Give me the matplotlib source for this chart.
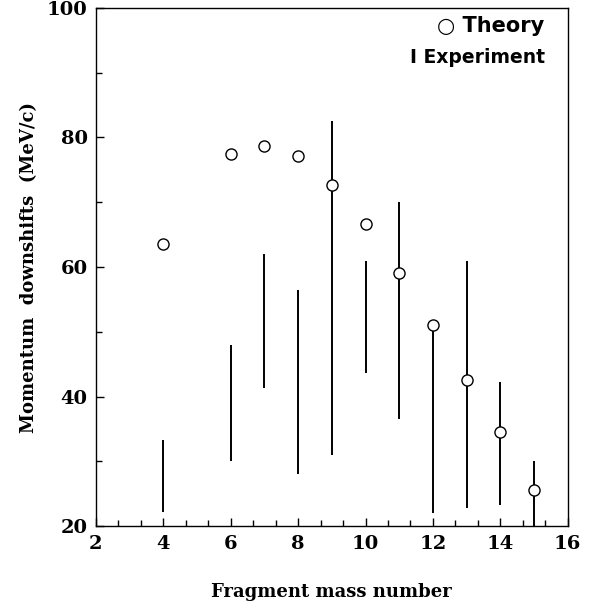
import numpy as np
import matplotlib.pyplot as plt
from matplotlib.ticker import MultipleLocator

# Theory (open circles)
theory_mass = [4, 6, 7, 8, 9, 10, 11, 12, 13, 14, 15]
theory_shift = [63.6, 77.4, 78.7, 77.1, 72.6, 66.6, 59.1, 51.0, 42.6, 34.5, 25.6]

# Experiment (vertical bars, low/high)
exp_mass = [4, 6, 7, 8, 9, 10, 11, 12, 13, 14, 15]
exp_low = [22.2, 30.0, 41.3, 28.0, 31.0, 43.7, 36.5, 22.0, 22.8, 23.3, 20.0]
exp_high = [33.3, 48.0, 62.0, 56.4, 82.5, 61.0, 70.0, 51.0, 61.0, 42.2, 30.0]

serif = 'DejaVu Serif'

fig = plt.figure(figsize=(5.92, 6.09), dpi=100)
ax = fig.add_axes([0.162, 0.136, 0.797, 0.851])

ax.vlines(exp_mass, exp_low, exp_high, colors='black', linewidth=1.4)
ax.plot(theory_mass, theory_shift, 'o', mfc='white', mec='black',
        markersize=8, markeredgewidth=1.0, linestyle='none')

ax.set_xlim(2, 16)
ax.set_ylim(20, 100)
ax.xaxis.set_major_locator(MultipleLocator(2))
ax.xaxis.set_minor_locator(MultipleLocator(2 / 3))
ax.yaxis.set_major_locator(MultipleLocator(20))
ax.yaxis.set_minor_locator(MultipleLocator(10))
ax.tick_params(which='both', direction='in', top=False, right=False)
ax.tick_params(which='major', length=6, width=1, pad=6)
ax.tick_params(which='minor', length=4, width=1)

for lab in ax.get_xticklabels() + ax.get_yticklabels():
    lab.set_fontfamily(serif)
    lab.set_fontweight('bold')
    lab.set_fontsize(14)

ax.set_xlabel('Fragment mass number', fontfamily=serif, fontweight='bold',
              fontsize=13, labelpad=22)
ax.set_ylabel('Momentum  downshifts  (MeV/c)', fontfamily=serif,
              fontweight='bold', fontsize=13, labelpad=6)

for s in ax.spines.values():
    s.set_linewidth(1.0)

# legend as text
ax.text(0.951, 0.966, '\u25CB Theory', transform=ax.transAxes, ha='right',
        va='center', fontsize=15, fontweight='bold', family='DejaVu Sans')
ax.text(0.951, 0.905, 'I Experiment', transform=ax.transAxes, ha='right',
        va='center', fontsize=13.5, fontweight='bold', family='DejaVu Sans')

fig.savefig('out.png', dpi=100)
